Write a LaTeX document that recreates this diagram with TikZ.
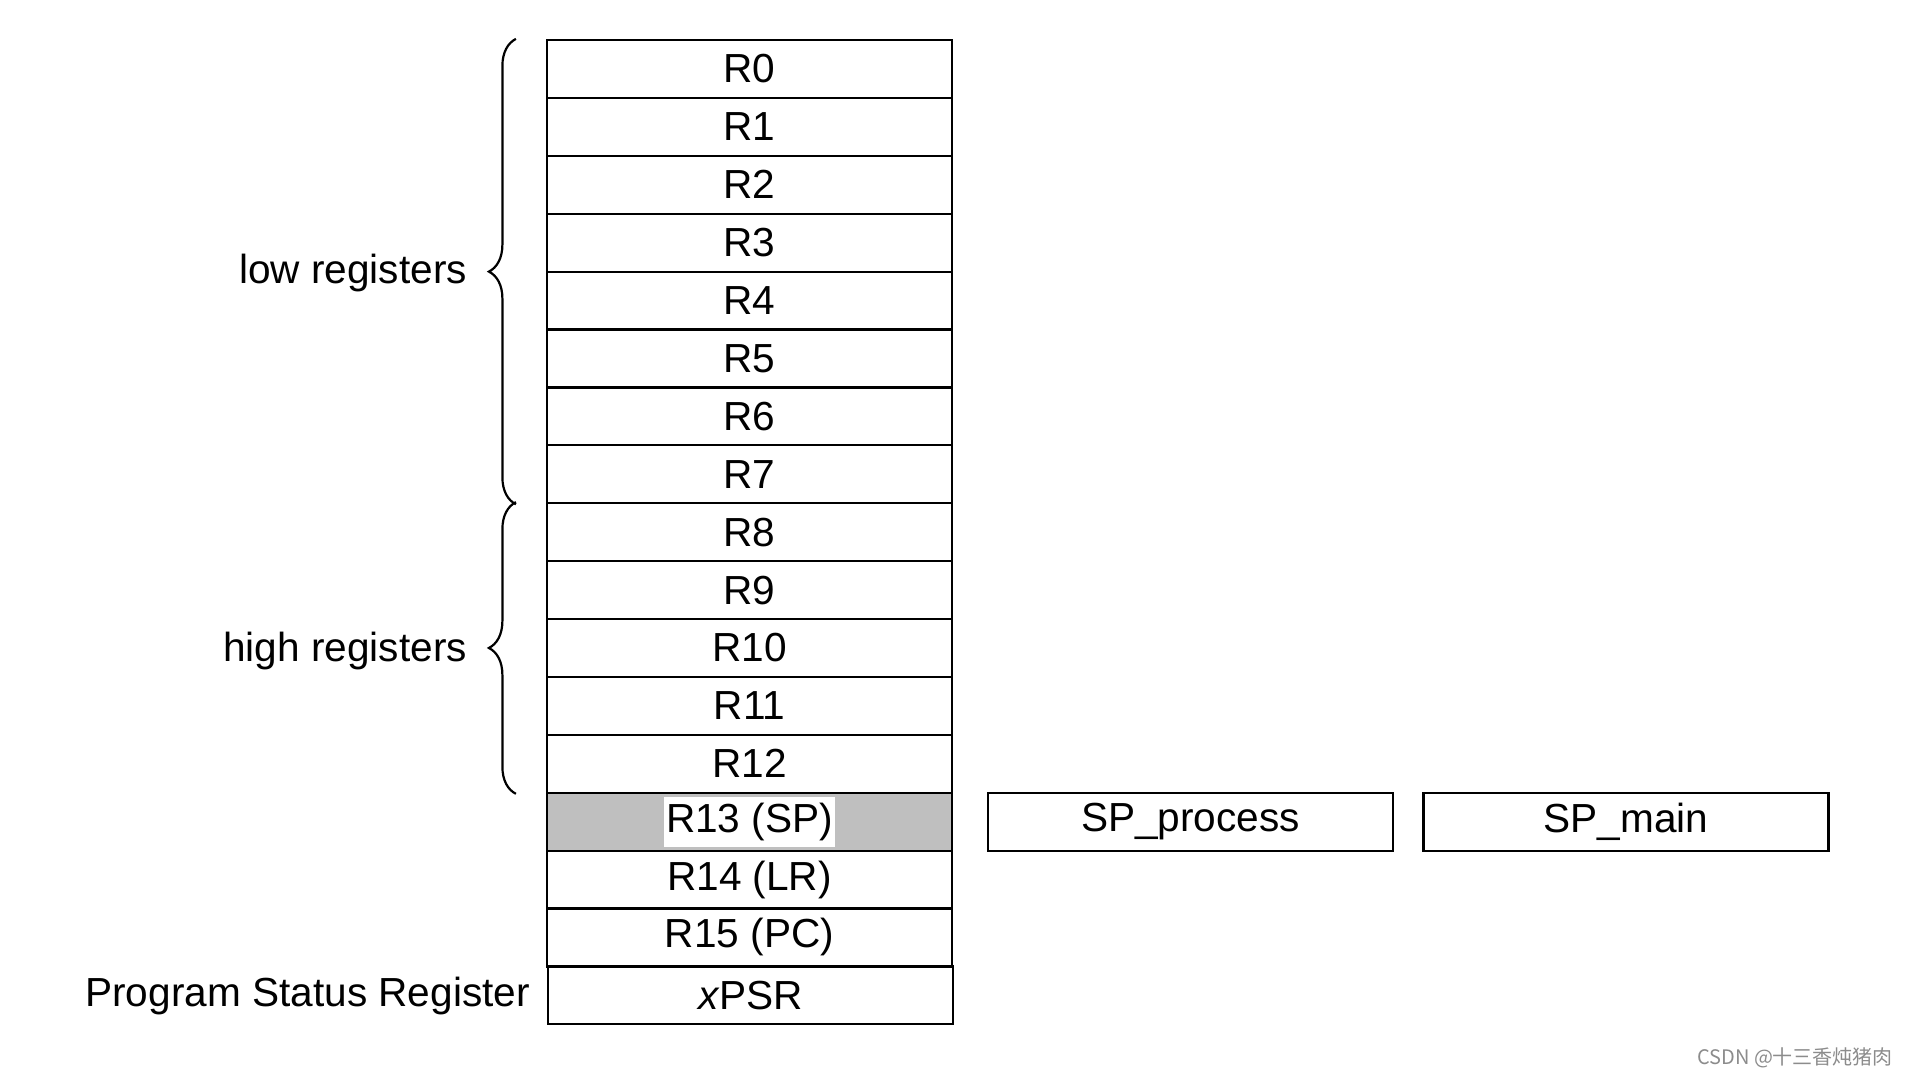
\documentclass[tikz,border=0pt]{standalone}
\usepackage{fontspec}
\setmainfont{Liberation Sans}
\newfontfamily\cjk{Noto Sans CJK SC}
\usetikzlibrary{decorations.pathreplacing}

\begin{document}
\begin{tikzpicture}[x=0.5pt,y=-0.5pt,line width=1.1pt,
    font=\fontsize{20.3}{24}\selectfont,
    reg/.style={draw,minimum width=202.5pt,minimum height=28.95pt,inner sep=0pt},
    regbrace/.style={decorate,decoration={brace,amplitude=13.5pt}}]
  \useasboundingbox (0,0) rectangle (1909,1077);
  % register bank
  \node[reg] (r0) at (749.5,68.95) {R0};
  \node[reg] (r1) at (749.5,126.85) {R1};
  \node[reg] (r2) at (749.5,184.75) {R2};
  \node[reg] (r3) at (749.5,242.65) {R3};
  \node[reg] (r4) at (749.5,300.55) {R4};
  \node[reg] (r5) at (749.5,358.45) {R5};
  \node[reg] (r6) at (749.5,416.35) {R6};
  \node[reg] (r7) at (749.5,474.25) {R7};
  \node[reg] (r8) at (749.5,532.15) {R8};
  \node[reg] (r9) at (749.5,590.05) {R9};
  \node[reg] (r10) at (749.5,647.95) {R10};
  \node[reg] (r11) at (749.5,705.85) {R11};
  \node[reg] (r12) at (749.5,763.75) {R12};
  \node[reg,fill=black!25] (r13) at (749.5,821.65) {};
  \node[fill=white,inner xsep=1pt,inner ysep=3pt] (r13txt) at (r13) {R13 (SP)};
  \node[reg] (r14) at (749.5,879.55) {R14 (LR)};
  \node[reg] (r15) at (749.5,937.45) {R15 (PC)};
  \node[reg] (psr) at (750.5,995.35) {\textit{x}PSR};
  % banked stack pointers
  \node[reg] (spp) at (1190.5,821.65) {SP\_process};
  \node[reg] (spm) at (1626,821.65) {SP\_main};
  % braces and labels
  \draw[regbrace] ([xshift=-15pt]r7.south west) -- ([xshift=-15pt]r0.north west);
  \draw[regbrace] ([xshift=-15pt]r12.south west) -- ([xshift=-15pt]r8.north west);
  \node[anchor=east,inner sep=0pt] (low) at (468,273) {low registers};
  \node[anchor=east,inner sep=0pt] (high) at (468,650.5) {high registers};
  \node[anchor=east,inner sep=0pt] (psrlbl) at (531,996) {Program Status Register};
  \node[anchor=east,inner sep=0pt,text=black!45,font=\cjk\fontsize{10}{12}\selectfont] (mark) at (1894,1058) {CSDN @十三香炖猪肉};
\end{tikzpicture}
\end{document}
